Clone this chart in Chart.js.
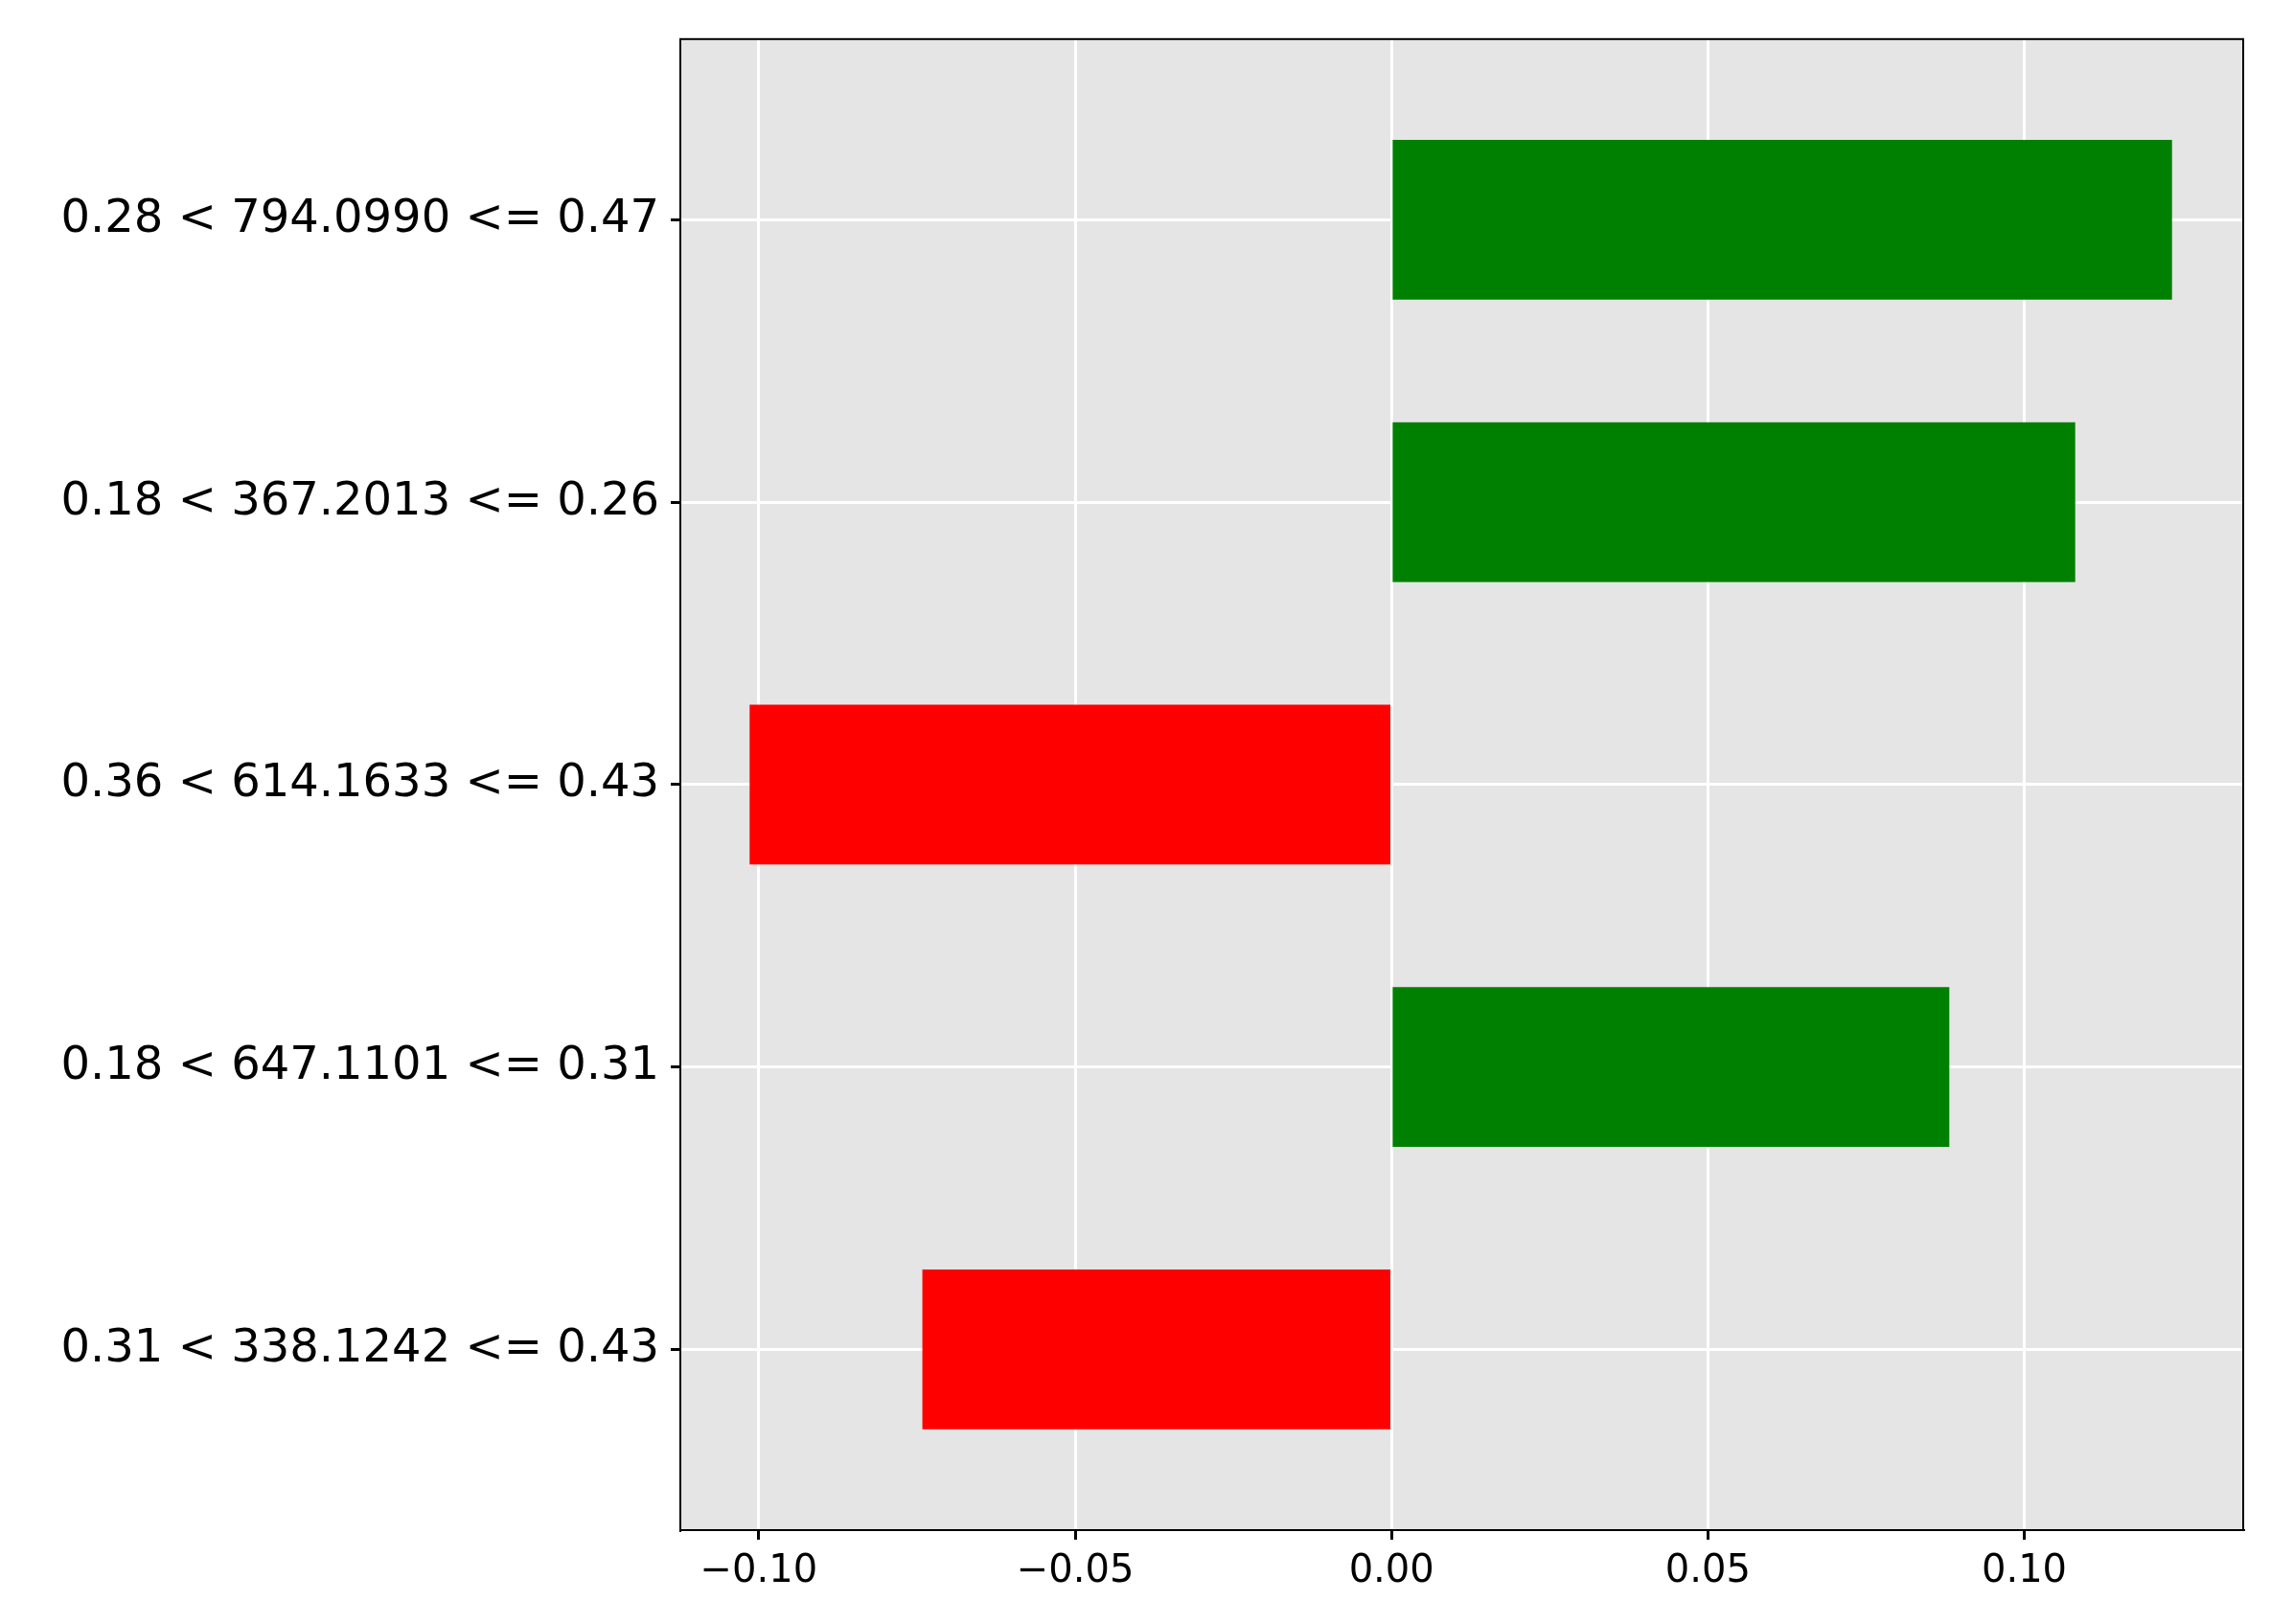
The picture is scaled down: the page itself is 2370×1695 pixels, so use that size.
<!DOCTYPE html>
<html>
<head>
<meta charset="utf-8">
<script src="https://cdn.jsdelivr.net/npm/chart.js@4"></script>
<style>
  html, body { margin: 0; padding: 0; background: #fff; }
  #wrap { width: 2370px; height: 1695px; }
</style>
</head>
<body>
<div id="wrap"><canvas id="chart"></canvas></div>
<script>
// rule labels, top to bottom
const ruleLabels = [
    '0.28 < 794.0990 <= 0.47',
    '0.18 < 367.2013 <= 0.26',
    '0.36 < 614.1633 <= 0.43',
    '0.18 < 647.1101 <= 0.31',
    '0.31 < 338.1242 <= 0.43'
];
const weights = [0.1233, 0.108, -0.1014, 0.0881, -0.0741];
const xTicks = [-0.10, -0.05, 0.00, 0.05, 0.10];

const barColors = weights.map(w => w >= 0 ? 'green' : 'red');

// grey plot background plus the top/right frame lines
const frame = {
    id: 'frame',
    beforeDraw(chart) {
        const { ctx, chartArea: a } = chart;
        ctx.save();
        ctx.fillStyle = '#e5e5e5';
        ctx.fillRect(a.left, a.top, a.right - a.left, a.bottom - a.top);
        ctx.restore();
    },
    afterDraw(chart) {
        const { ctx, chartArea: a } = chart;
        ctx.save();
        ctx.strokeStyle = '#000';
        ctx.lineWidth = 2;
        ctx.strokeRect(a.left, a.top, a.right - a.left, a.bottom - a.top);
        ctx.restore();
    }
};

new Chart(document.getElementById('chart'), {
    type: 'bar',
    data: {
        datasets: [{
            data: weights.map((w, i) => ({ x: w, y: i })),
            backgroundColor: barColors,
            barThickness: 166
        }]
    },
    options: {
        indexAxis: 'y',
        responsive: true,
        maintainAspectRatio: false,
        animation: false,
        layout: { padding: { left: 20, right: 29, top: 18, bottom: 20 } },
        plugins: { legend: { display: false }, tooltip: { enabled: false } },
        scales: {
            x: {
                type: 'linear',
                min: -0.1124,
                max: 0.1346,
                afterBuildTicks(axis) { axis.ticks = xTicks.map(v => ({ value: v })); },
                ticks: {
                    color: '#000',
                    font: { family: 'DejaVu Sans', size: 40 },
                    padding: 10,
                    callback: v => (v < 0 ? '\u2212' : '') + Math.abs(v).toFixed(2)
                },
                grid: { color: '#fff', lineWidth: 3, tickColor: '#000', tickLength: 10 },
                border: { color: '#000', width: 2 }
            },
            y: {
                type: 'linear',
                reverse: true,
                offset: false,
                min: -0.64,
                max: 4.64,
                afterBuildTicks(axis) { axis.ticks = ruleLabels.map((_, i) => ({ value: i })); },
                afterFit(axis) { axis.width = 690; },
                ticks: {
                    color: '#000',
                    font: { family: 'DejaVu Sans', size: 48 },
                    padding: 12,
                    callback: v => ruleLabels[v]
                },
                grid: { offset: false, color: '#fff', lineWidth: 3, tickColor: '#000', tickLength: 10 },
                border: { color: '#000', width: 2 }
            }
        }
    },
    plugins: [frame]
});
</script>
</body>
</html>
